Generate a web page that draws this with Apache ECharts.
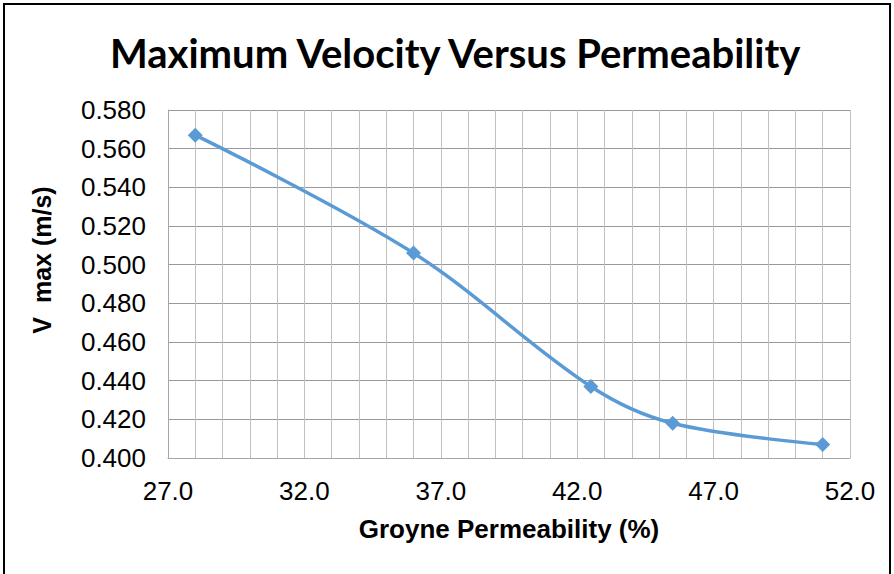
<!DOCTYPE html>
<html>
<head>
<meta charset="utf-8">
<script src="https://cdn.jsdelivr.net/npm/echarts@6/dist/echarts.min.js"></script>
<style>
  html, body { margin: 0; padding: 0; background: #fff; }
  #frame {
    position: absolute; left: 3px; top: 3px; width: 884px; height: 580px;
    border: 2px solid #000; background: #fff;
  }
  #main { position: absolute; left: -5px; top: -5px; width: 894px; height: 574px; }
</style>
</head>
<body>
<div id="frame"><div id="main"></div></div>
<script>
// groyne permeability (%) and max velocity (m/s)
const permeability = [28.0, 36.0, 42.5, 45.5, 51.0];
const vmax = [0.567, 0.506, 0.437, 0.418, 0.407];

const xMin = 27, xMax = 52, xLabelStep = 5;
const yMin = 0.4, yMax = 0.58, yStep = 0.02;

const chart = echarts.init(document.getElementById('main'), null, { renderer: 'svg' });

chart.setOption({
    animation: false,
    title: {
        text: 'Maximum Velocity Versus Permeability',
        left: 105,
        top: 28,
        textStyle: {
            fontFamily: 'Lato',
            fontWeight: 'bold',
            fontSize: 40,
            color: '#000'
        }
    },
    grid: { left: 168, right: 44, top: 110, bottom: 116 },
    xAxis: {
        type: 'value',
        min: xMin,
        max: xMax,
        interval: 1,
        name: 'Groyne Permeability (%)',
        nameLocation: 'middle',
        nameGap: 58,
        nameTextStyle: {
            fontFamily: 'Liberation Sans',
            fontWeight: 'bold',
            fontSize: 26,
            color: '#000'
        },
        axisLine: { show: true, lineStyle: { color: '#a6a6a6', width: 1 } },
        axisTick: { show: false },
        axisLabel: {
            margin: 20,
            fontFamily: 'Liberation Sans',
            fontSize: 26,
            color: '#000',
            formatter: v => ((v - xMin) % xLabelStep === 0 ? v.toFixed(1) : '')
        },
        splitLine: { show: true, lineStyle: { color: '#c0c0c0', width: 1 } }
    },
    yAxis: {
        type: 'value',
        min: yMin,
        max: yMax,
        interval: yStep,
        name: 'V  max (m/s)',
        nameLocation: 'middle',
        nameGap: 114,
        nameTextStyle: {
            fontFamily: 'Liberation Sans',
            fontWeight: 'bold',
            fontSize: 25,
            color: '#000',
            padding: [0, 0, 0, 48]
        },
        axisLine: { show: true, lineStyle: { color: '#a6a6a6', width: 1 } },
        axisTick: { show: false },
        axisLabel: {
            margin: 22,
            fontFamily: 'Liberation Sans',
            fontSize: 26,
            color: '#000',
            formatter: v => v.toFixed(3)
        },
        splitLine: { show: true, lineStyle: { color: '#999999', width: 1 } }
    },
    series: [{
        type: 'line',
        data: permeability.map((x, i) => [x, vmax[i]]),
        smooth: 0.35,
        symbol: 'diamond',
        symbolSize: 15,
        lineStyle: { color: '#5b9bd5', width: 3.5 },
        itemStyle: { color: '#5b9bd5' }
    }]
});
</script>
</body>
</html>
